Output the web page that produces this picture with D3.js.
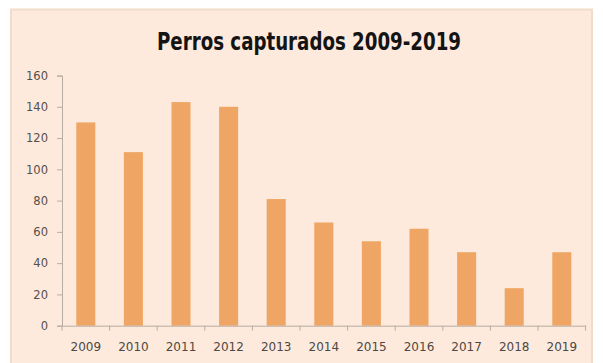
<!DOCTYPE html>
<html>
<head>
<meta charset="utf-8">
<script src="https://cdn.jsdelivr.net/npm/d3@7"></script>
<style>
  html, body { margin: 0; padding: 0; background: #ffffff; }
  svg { display: block; }
</style>
</head>
<body>
<script>
// Dogs captured per year
const years = ["2009", "2010", "2011", "2012", "2013", "2014", "2015", "2016", "2017", "2018", "2019"];
const captured = [130, 111, 143, 140, 81, 66, 54, 62, 47, 24, 47];
const yTicks = [0, 20, 40, 60, 80, 100, 120, 140, 160];
const chartTitle = "Perros capturados 2009-2019";

const W = 603, H = 363;
const svg = d3.select("body").append("svg").attr("width", W).attr("height", H);

// Chart panel
svg.append("rect")
  .attr("x", 11).attr("y", 9.5)
  .attr("width", 581).attr("height", H)
  .attr("fill", "#fdeadc")
  .attr("stroke", "#f1dccb").attr("stroke-width", 2);

const plot = { left: 62, right: 585.6, top: 75.5, bottom: 325.7 };

const x = d3.scaleBand()
  .domain(years)
  .range([plot.left, plot.right])
  .paddingInner(0.6)
  .paddingOuter(0.3);

const y = d3.scaleLinear()
  .domain([0, 160])
  .range([plot.bottom, plot.top]);

// Title
svg.append("text")
  .attr("x", 309).attr("y", 49.5)
  .attr("text-anchor", "middle")
  .attr("font-family", "'DejaVu Sans Condensed', 'DejaVu Sans', sans-serif")
  .attr("font-weight", "bold")
  .attr("font-size", 25)
  .attr("fill", "#141414")
  .attr("textLength", 304)
  .attr("lengthAdjust", "spacingAndGlyphs")
  .text(chartTitle);

// Bars
svg.append("g")
  .selectAll("rect")
  .data(years.map((yr, i) => ({ yr, v: captured[i] })))
  .join("rect")
  .attr("x", d => x(d.yr))
  .attr("y", d => y(d.v))
  .attr("width", x.bandwidth())
  .attr("height", d => y(0) - y(d.v))
  .attr("fill", "#efa664");

// Y axis
const yAxis = svg.append("g")
  .attr("transform", `translate(${plot.left},0)`)
  .call(d3.axisLeft(y).tickValues(yTicks).tickSize(5).tickPadding(9));
yAxis.select(".domain").attr("stroke", "#b9aca2");
yAxis.selectAll(".tick line").attr("stroke", "#b9aca2");
yAxis.selectAll(".tick text")
  .attr("font-family", "'DejaVu Sans', sans-serif")
  .attr("font-size", 11.5)
  .attr("fill", "#555049");

// X axis with ticks at category boundaries
const xAxis = svg.append("g")
  .attr("transform", `translate(0,${plot.bottom})`)
  .call(d3.axisBottom(x).tickSize(0).tickPadding(17));
xAxis.select(".domain").attr("stroke", "#b9aca2");
xAxis.selectAll(".tick text")
  .attr("font-family", "'DejaVu Sans', sans-serif")
  .attr("font-size", 12)
  .attr("fill", "#4d4843");

const step = x.step();
xAxis.selectAll(".boundary")
  .data(d3.range(years.length + 1))
  .join("line")
  .attr("class", "boundary")
  .attr("x1", i => plot.left + i * step)
  .attr("x2", i => plot.left + i * step)
  .attr("y1", 0).attr("y2", 5)
  .attr("stroke", "#b9aca2");
</script>
</body>
</html>
